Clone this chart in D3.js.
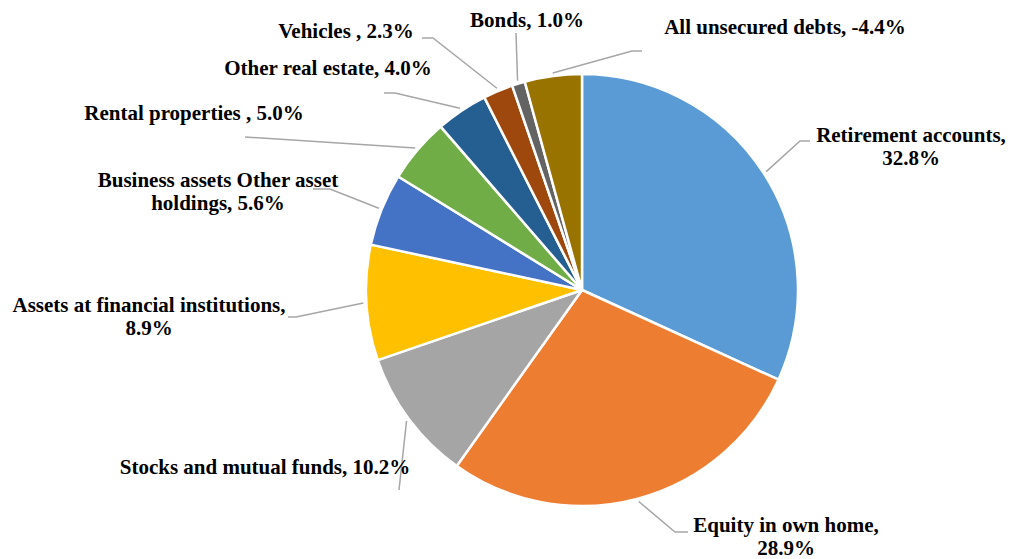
<!DOCTYPE html>
<html>
<head>
<meta charset="utf-8">
<script src="https://cdn.jsdelivr.net/npm/d3@7/dist/d3.min.js"></script>
<style>
  html, body { margin: 0; padding: 0; background: #fff; }
  svg { display: block; }
</style>
</head>
<body>
<svg id="chart" width="1010" height="559"></svg>
<script>
// Net worth composition (share of total, %)
const categories = [
  "Retirement accounts",
  "Equity in own home",
  "Stocks and mutual funds",
  "Assets at financial institutions",
  "Business assets Other asset holdings",
  "Rental properties ",
  "Other real estate",
  "Vehicles ",
  "Bonds",
  "All unsecured debts"
];
const values = [32.8, 28.9, 10.2, 8.9, 5.6, 5.0, 4.0, 2.3, 1.0, -4.4];
const colors = ["#5b9bd5", "#ed7d31", "#a5a5a5", "#ffc000", "#4472c4",
                "#70ad47", "#255e91", "#9e480e", "#636363", "#997300"];

// Label text is split into lines where the label wraps
const labelLines = [
  ["Retirement accounts,", "{v}"],
  ["Equity in own home,", "{v}"],
  ["Stocks and mutual funds, {v}"],
  ["Assets at financial institutions,", "{v}"],
  ["Business assets Other asset", "holdings, {v}"],
  ["Rental properties , {v}"],
  ["Other real estate, {v}"],
  ["Vehicles , {v}"],
  ["Bonds, {v}"],
  ["All unsecured debts, {v}"]
];

// Layout: label centre / first baseline, and leader-line bend points
const labelPos = [
  [911, 142], [786, 532], [265, 474], [149, 312], [218, 187],
  [194, 120], [328, 75], [346, 38], [527, 27], [785, 34]
];
const leaderBends = [
  [[800, 141], [810, 141]],
  [[675, 532], [688, 532]],
  [[399, 490]],
  [[296, 317], [288, 317]],
  [[330, 189], [313, 189]],
  [[245, 137]],
  [[395, 93], [384, 93]],
  [[433, 38], [422, 38]],
  [[516, 33]],
  [[632, 51], [642, 51]]
];

const cx = 582, cy = 290, radius = 216;
const fontFamily = "'Liberation Serif', 'Times New Roman', Tinos, 'DejaVu Serif', serif";
const svg = d3.select("#chart");
const g = svg.append("g").attr("transform", `translate(${cx},${cy})`);

const data = categories.map((c, i) => ({ name: c, value: values[i], i }));

const pie = d3.pie()
  .value(d => Math.abs(d.value))
  .sort(null);
const arcs = pie(data);

const arc = d3.arc().innerRadius(0).outerRadius(radius);

g.selectAll("path.slice")
  .data(arcs)
  .join("path")
  .attr("class", "slice")
  .attr("d", arc)
  .attr("fill", d => colors[d.data.i])
  .attr("stroke", "#fff")
  .attr("stroke-width", 2.5)
  .attr("stroke-linejoin", "round");

// Leader lines from the slice edge to each label
const edge = d3.arc().innerRadius(radius + 3).outerRadius(radius + 3);
const line = d3.line();
svg.selectAll("path.leader")
  .data(arcs)
  .join("path")
  .attr("class", "leader")
  .attr("d", d => {
    const [x, y] = edge.centroid(d);
    const pts = [[x + cx, y + cy]].concat(leaderBends[d.data.i]);
    return line(pts);
  })
  .attr("fill", "none")
  .attr("stroke", "#a6a6a6")
  .attr("stroke-width", 1.5);

// Plain hyphen-minus for negative values
const locale = d3.formatLocale({ decimal: ".", thousands: ",", grouping: [3], currency: ["", ""], minus: "-" });
const fmt = v => locale.format(".1f")(v) + "%";

const labels = svg.selectAll("text.label")
  .data(arcs)
  .join("text")
  .attr("class", "label")
  .attr("text-anchor", "middle")
  .attr("font-family", fontFamily)
  .attr("font-weight", "bold")
  .attr("font-size", 21)
  .attr("fill", "#000")
  .attr("x", d => labelPos[d.data.i][0])
  .attr("y", d => labelPos[d.data.i][1]);

labels.each(function(d) {
  const t = d3.select(this);
  const [x] = labelPos[d.data.i];
  labelLines[d.data.i].forEach((s, k) => {
    t.append("tspan")
      .attr("x", x)
      .attr("dy", k === 0 ? 0 : 23)
      .text(s.replace("{v}", fmt(d.data.value)));
  });
});
</script>
</body>
</html>
